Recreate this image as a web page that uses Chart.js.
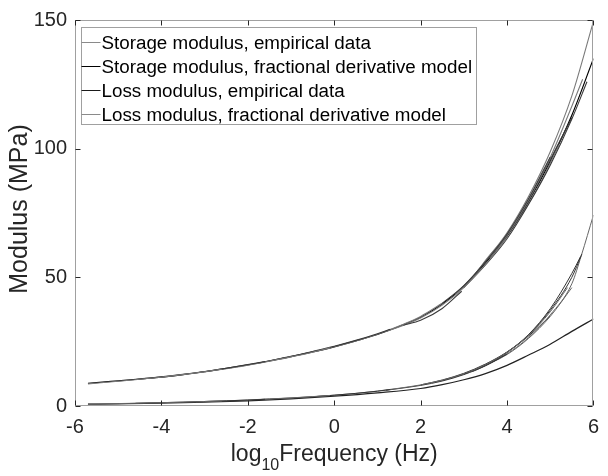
<!DOCTYPE html>
<html>
<head>
<meta charset="utf-8">
<script src="https://cdn.jsdelivr.net/npm/chart.js@4/dist/chart.umd.min.js"></script>
<style>
  html, body { margin: 0; padding: 0; background: #fff; }
  canvas { display: block; }
</style>
</head>
<body>
<canvas id="chart" width="608" height="476"></canvas>
<script>
// log10 frequency (Hz) and modulus (MPa) for each curve

const xTicks = [-6, -4, -2, 0, 2, 4, 6];
const yTicks = [0, 50, 100, 150];

const legendLabels = [
  'Storage modulus, empirical data',
  'Storage modulus, fractional derivative model',
  'Loss modulus, empirical data',
  'Loss modulus, fractional derivative model'
];

// Fractional derivative model, storage modulus
const storageModelFreq = [-5.7, -5.5, -5, -4.5, -4, -3.5, -3, -2.5, -2, -1.5, -1, -0.5, 0, 0.5, 1, 1.5, 2, 2.5, 3, 3.5, 4, 4.5, 5, 5.5, 6];
const storageModelMPa  = [8.8, 9.1, 9.8, 10.5, 11.2, 12.2, 13.3, 14.6, 16.0, 17.5, 19.2, 21.0, 23.0, 25.3, 27.8, 30.9, 34.5, 39.6, 46.5, 55.5, 66.0, 79.5, 95.0, 113.0, 135.0];

// Fractional derivative model, loss modulus
const lossModelFreq = [-5.7, -5, -4, -3, -2, -1, 0, 1, 2, 2.5, 3, 3.5, 4, 4.5, 5, 5.5, 6];
const lossModelMPa  = [0.7, 0.85, 1.1, 1.5, 2.0, 2.8, 3.8, 5.1, 6.8, 8.3, 10.2, 12.6, 15.8, 19.8, 24.0, 29.0, 33.8];

// Measured runs (one per test temperature), storage modulus
const storageRunFreq = [
  [-5.7, -5, -4.5, -4, -3.5, -3, -2.6],
  [-4.6, -4, -3.5, -3, -2.5, -2, -1.6],
  [-3.2, -2.5, -2, -1.5, -1, -0.5, -0.1],
  [-1.8, -1.5, -1, -0.5, 0, 0.5, 1, 1.3],
  [-0.4, 0, 0.5, 1, 1.5, 2, 2.5],
  [1.6, 2, 2.5, 2.95],
  [1.2, 1.5, 2, 2.5, 3, 3.5, 4],
  [2.4, 3, 3.5, 4, 4.5, 5],
  [3.2, 3.5, 4, 4.5, 5, 5.5, 6],
  [3.0, 3.5, 4, 4.5, 5, 5.5, 5.85],
  [3.6, 4, 4.5, 5, 5.5, 5.75],
  [3.8, 4.2, 4.6, 5, 5.5],
  [2.8, 3.2, 3.6, 4, 4.4, 4.8, 5.2]
];
const storageRunMPa = [
  [8.6, 9.6, 10.4, 11.2, 12.2, 13.3, 14.3],
  [10.3, 11.3, 12.3, 13.4, 14.7, 16.1, 17.3],
  [12.8, 14.5, 15.9, 17.4, 19.1, 20.9, 22.6],
  [16.5, 17.6, 19.3, 21.2, 23.2, 25.5, 28.1, 29.8],
  [21.3, 23.0, 25.3, 27.9, 31.1, 34.8, 39.9],
  [31.4, 33.3, 37.9, 44.6],
  [29.0, 30.7, 34.2, 39.2, 46.0, 55.0, 65.4],
  [38.6, 46.8, 56.0, 66.8, 80.6, 96.8],
  [50.0, 56.3, 67.3, 81.5, 98.8, 120.5, 149.5],
  [46.0, 54.8, 65.0, 78.4, 93.6, 111.5, 126.0],
  [57.6, 66.4, 80.2, 96.6, 116.5, 127.0],
  [61.5, 71.0, 82.8, 95.8, 112.0],
  [43.4, 50.2, 58.6, 66.4, 76.0, 87.6, 101.5]
];

// Measured runs, loss modulus
const lossRunFreq = [
  [-5.7, -5, -4.5, -4, -3.5, -3, -2.6],
  [-4.6, -4, -3.5, -3, -2.5, -2, -1.6],
  [-3.2, -2.5, -2, -1.5, -1, -0.5, -0.1],
  [-1.8, -1.5, -1, -0.5, 0, 0.5, 1, 1.3],
  [-0.4, 0, 0.5, 1, 1.5, 2, 2.5],
  [1.2, 1.5, 2, 2.5, 3, 3.5, 4],
  [2.4, 3, 3.5, 4, 4.5, 5, 5.4],
  [3.0, 3.5, 4, 4.5, 5, 5.5, 5.73],
  [3.2, 3.5, 4, 4.5, 5, 5.5, 5.72, 6],
  [3.6, 4, 4.5, 5, 5.5, 5.7],
  [3.4, 4, 4.5, 5, 5.5],
  [2.0, 2.5, 3, 3.5, 4, 4.5, 5]
];
const lossRunMPa = [
  [0.8, 0.95, 1.1, 1.3, 1.5, 1.75, 1.95],
  [1.05, 1.3, 1.5, 1.75, 2.0, 2.3, 2.6],
  [1.65, 2.0, 2.35, 2.75, 3.15, 3.65, 4.1],
  [2.45, 2.7, 3.1, 3.6, 4.2, 4.9, 5.75, 6.4],
  [3.7, 4.2, 4.9, 5.8, 6.9, 8.2, 10.0],
  [6.1, 6.8, 8.0, 9.7, 12.2, 15.6, 20.2],
  [9.5, 12.5, 16.1, 20.9, 27.5, 36.6, 46.0],
  [12.4, 16.0, 20.8, 27.6, 37.2, 50.0, 59.0],
  [13.4, 15.7, 20.3, 26.6, 35.4, 47.5, 58.5, 74.2],
  [16.6, 20.9, 27.8, 37.8, 51.5, 58.0],
  [15.0, 20.0, 26.3, 34.8, 46.0],
  [8.2, 10.1, 12.7, 16.3, 21.0, 27.2, 35.0]
];

const FONT = "'Liberation Sans', Arial, Helvetica, sans-serif";
const INK = '#262626';
const seriesColors = ['#8a8a8a', '#000000', '#1a1a1a', '#8a8a8a'];

function toPoints(fs, vs) {
  return fs.map((f, i) => ({ x: f, y: vs[i] }));
}

function lineSet(label, fs, vs, color, width) {
  return {
    label: label,
    data: toPoints(fs, vs),
    showLine: true,
    borderColor: color,
    borderWidth: width,
    pointRadius: 0,
    pointHoverRadius: 0,
    fill: false,
    cubicInterpolationMode: 'monotone'
  };
}

const datasets = [];
storageRunFreq.forEach((fs, i) => {
  datasets.push(lineSet(legendLabels[0], fs, storageRunMPa[i], i % 2 ? '#3a3a3a' : '#7a7a7a', 1.1));
});
lossRunFreq.forEach((fs, i) => {
  datasets.push(lineSet(legendLabels[2], fs, lossRunMPa[i], i % 2 ? '#333333' : '#666666', 1.0));
});
datasets.push(lineSet(legendLabels[1], storageModelFreq, storageModelMPa, seriesColors[1], 1.2));
datasets.push(lineSet(legendLabels[3], lossModelFreq, lossModelMPa, '#222222', 1.2));

// Box, inward ticks, legend and axis titles in the MATLAB figure style
const figureDecor = {
  id: 'figureDecor',
  afterDraw(chart) {
    const { ctx, chartArea: a, scales } = chart;
    const sx = scales.x, sy = scales.y;
    ctx.save();

    // axes box
    const L = Math.round(a.left) + 0.5, R = Math.round(a.right) - 0.5;
    const T = Math.round(a.top) + 0.5, B = Math.round(a.bottom) - 0.5;
    ctx.strokeStyle = '#a0a0a0';
    ctx.lineWidth = 1;
    ctx.strokeRect(L, T, R - L, B - T);

    // inward tick marks on all four sides
    ctx.strokeStyle = INK;
    ctx.beginPath();
    xTicks.forEach(v => {
      const px = Math.round(sx.getPixelForValue(v)) + 0.5;
      ctx.moveTo(px, B); ctx.lineTo(px, B - 5);
      ctx.moveTo(px, T); ctx.lineTo(px, T + 5);
    });
    yTicks.forEach(v => {
      const py = Math.round(sy.getPixelForValue(v)) + 0.5;
      ctx.moveTo(L, py); ctx.lineTo(L + 5, py);
      ctx.moveTo(R, py); ctx.lineTo(R - 5, py);
    });
    ctx.stroke();

    // legend
    const lx = L + 6, ly = T + 7, lw = 395, lh = 97;
    ctx.fillStyle = '#ffffff';
    ctx.fillRect(lx, ly, lw, lh);
    ctx.strokeStyle = '#a0a0a0';
    ctx.strokeRect(lx, ly, lw, lh);
    ctx.font = '18.8px ' + FONT;
    ctx.textBaseline = 'middle';
    ctx.textAlign = 'left';
    legendLabels.forEach((txt, i) => {
      const ry = Math.round(ly + 14 + i * 24) + 0.5;
      ctx.strokeStyle = seriesColors[i];
      ctx.beginPath();
      ctx.moveTo(lx, ry); ctx.lineTo(lx + 19, ry);
      ctx.stroke();
      ctx.fillStyle = '#000000';
      ctx.fillText(txt, lx + 20, ry + 1);
    });

    // x-axis title with subscript
    ctx.fillStyle = INK;
    ctx.textBaseline = 'alphabetic';
    const big = '23px ' + FONT, small = '16px ' + FONT;
    ctx.font = big;
    const w1 = ctx.measureText('log').width;
    const w3 = ctx.measureText('Frequency (Hz)').width;
    ctx.font = small;
    const w2 = ctx.measureText('10').width;
    const cx = (a.left + a.right) / 2;
    const x0 = cx - (w1 + w2 + w3) / 2;
    const base = 461;
    ctx.font = big;
    ctx.fillText('log', x0, base);
    ctx.font = small;
    ctx.fillText('10', x0 + w1, base + 9);
    ctx.font = big;
    ctx.fillText('Frequency (Hz)', x0 + w1 + w2, base);

    // y-axis title
    ctx.translate(20, (a.top + a.bottom) / 2 - 4);
    ctx.rotate(-Math.PI / 2);
    ctx.textAlign = 'center';
    ctx.textBaseline = 'middle';
    ctx.font = '25px ' + FONT;
    ctx.fillText('Modulus (MPa)', 0, 0);

    ctx.restore();
  }
};

new Chart(document.getElementById('chart'), {
  type: 'scatter',
  data: { datasets: datasets },
  options: {
    responsive: false,
    animation: false,
    devicePixelRatio: 1,
    layout: { padding: { left: 0, right: 6, top: 14, bottom: 0 } },
    plugins: {
      legend: { display: false },
      tooltip: { enabled: false }
    },
    scales: {
      x: {
        type: 'linear',
        min: -6, max: 6,
        afterFit(axis) { axis.height = 70; },
        afterBuildTicks(axis) { axis.ticks = xTicks.map(v => ({ value: v })); },
        grid: { display: false, drawTicks: false },
        border: { display: false },
        ticks: {
          padding: 9,
          color: INK,
          font: { family: FONT, size: 20 },
          maxRotation: 0,
          callback: v => String(v)
        }
      },
      y: {
        type: 'linear',
        min: 0, max: 150,
        afterFit(axis) { axis.width = 75; },
        afterBuildTicks(axis) { axis.ticks = yTicks.map(v => ({ value: v })); },
        grid: { display: false, drawTicks: false },
        border: { display: false },
        ticks: {
          padding: 8,
          color: INK,
          font: { family: FONT, size: 20 },
          callback: v => String(v)
        }
      }
    }
  },
  plugins: [figureDecor]
});
</script>
</body>
</html>
